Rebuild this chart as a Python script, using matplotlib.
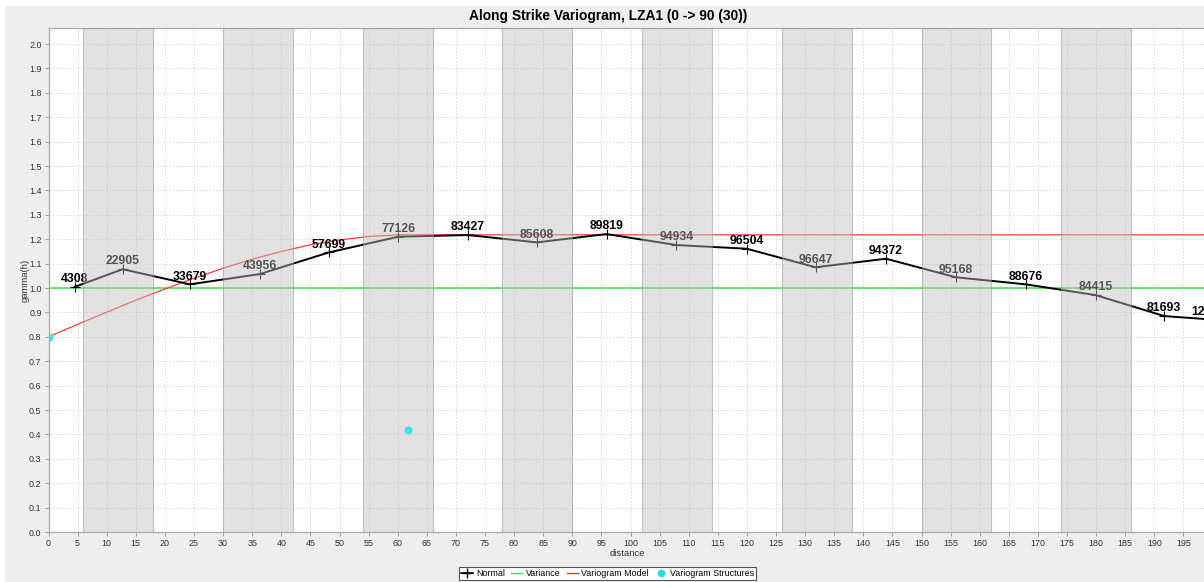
import matplotlib
matplotlib.use("Agg")
import matplotlib.pyplot as plt
from matplotlib.lines import Line2D
from matplotlib.patches import Rectangle
from matplotlib.ticker import MultipleLocator, FormatStrFormatter

plt.rcParams['font.family'] = ['Liberation Sans', 'DejaVu Sans']

# Experimental variogram: lag centres, gamma values and pair counts
lag_distance = [4.55, 12.75, 24.3, 36.3, 48.2, 60.1, 72.1, 83.9, 95.9, 107.9,
                119.95, 131.8, 143.9, 155.9, 167.9, 179.9, 191.7, 199.2]
gamma = [1.005, 1.077, 1.015, 1.057, 1.146, 1.210, 1.217, 1.187, 1.221, 1.176,
         1.161, 1.085, 1.120, 1.044, 1.015, 0.971, 0.885, 0.872]
pair_counts = [4308, 22905, 33679, 43956, 57699, 77126, 83427, 85608, 89819,
               94934, 96504, 96647, 94372, 95168, 88676, 84415, 81693, 12478]

# Sample variance
variance = 1.0

# Fitted variogram model
model_distance = [0, 5, 10, 15, 20, 25, 30, 35, 40, 45, 50, 55, 60, 61.7, 200]
model_gamma = [0.800, 0.851, 0.901, 0.950, 0.996, 1.040, 1.081, 1.118, 1.150,
               1.177, 1.197, 1.211, 1.218, 1.218, 1.218]

# Model structures: nugget and spherical structure (range, contribution)
structure_distance = [0.0, 61.7]
structure_gamma = [0.80, 0.42]

# Shaded lag intervals
band_start = [6, 30, 54, 78, 102, 126, 150, 174]
band_end = [18, 42, 66, 90, 114, 138, 162, 186]

W, H = 1204, 582
fig = plt.figure(figsize=(W / 100, H / 100), dpi=100)
fig.patch.set_facecolor('#eeeeee')
fig.add_artist(Rectangle((0, 1 - 6 / H), 1, 6 / H, transform=fig.transFigure,
                         facecolor='white', edgecolor='none', zorder=0))
fig.add_artist(Rectangle((0, 0), 5 / W, 1, transform=fig.transFigure,
                         facecolor='white', edgecolor='none', zorder=0))

x0_px, y0_px, top_px = 48.5, 532, 28
ax = fig.add_axes([x0_px / W, (H - y0_px) / H, 1 - x0_px / W, (y0_px - top_px) / H])
ax.set_facecolor('white')
ax.set_xlim(0, (W - x0_px) / 5.82)
ax.set_ylim(0, (y0_px - top_px) / 244.0)

ax.xaxis.set_major_locator(MultipleLocator(5))
ax.yaxis.set_major_locator(MultipleLocator(0.1))
ax.yaxis.set_major_formatter(FormatStrFormatter('%.1f'))
ax.grid(True, color='#d6d6d6', linestyle=(0, (2, 2)), linewidth=0.6, zorder=0)
ax.set_axisbelow(True)

for side in ('left', 'bottom', 'top'):
    ax.spines[side].set_color('#a8a8a8')
    ax.spines[side].set_linewidth(0.9)
ax.spines['right'].set_visible(False)
ax.tick_params(axis='both', direction='out', length=3, width=0.6,
               color='#909090', labelsize=6.4, labelcolor='#333333', pad=2)

# Variance and model
ax.axhline(variance, color='#55e055', linewidth=1.2, zorder=2)
ax.plot(model_distance, model_gamma, color='#ff3a3a', linewidth=0.9, zorder=2)

# Experimental points with pair counts
ax.plot(lag_distance, gamma, color='black', linewidth=1.4, marker='+',
        markersize=7, markeredgewidth=0.8, zorder=3)
for d, g, n in zip(lag_distance, gamma, pair_counts):
    ax.annotate(str(n), (d, g), xytext=(0, 3.4), textcoords='offset points',
                ha='center', va='baseline', fontsize=8.8, fontweight='bold',
                color='black', zorder=3, annotation_clip=False)

# Translucent lag bands over the series
for s, e in zip(band_start, band_end):
    ax.axvspan(s, e, facecolor='#bebebe', edgecolor='#8a8a8a', linewidth=0.8,
               alpha=0.45, zorder=4)

# Structures drawn on top
ax.plot(structure_distance, structure_gamma, linestyle='none', marker='o',
        markersize=4.8, color='#3ee4e4', zorder=5)

ax.set_xlabel('distance', fontsize=6.8, color='#333333')
ax.xaxis.set_label_coords((627 - x0_px) / (W - x0_px), -0.034)
ax.set_ylabel('gamma(h)', fontsize=6.8, color='#333333')
ax.yaxis.set_label_coords((29.5 - x0_px) / (W - x0_px), 0.5)

fig.text(608 / W, 1 - 16 / H, 'Along Strike Variogram, LZA1 (0 -> 90 (30))',
         ha='center', va='center', fontsize=9.9, fontweight='bold', color='black')

handles = [
    Line2D([], [], color='black', linewidth=1.2, marker='+', markersize=7,
           markeredgewidth=1.0),
    Line2D([], [], color='#33ee33', linewidth=1.0),
    Line2D([], [], color='#ff3030', linewidth=1.0),
    Line2D([], [], color='#22dddd', linestyle='none', marker='o', markersize=4.5),
]
labels = ['Normal', 'Variance', 'Variogram Model', 'Variogram Structures']
leg = fig.legend(handles, labels, loc='center', bbox_to_anchor=(607.5 / W, 8.5 / H),
                 ncol=4, fontsize=6.4, frameon=True, fancybox=False,
                 edgecolor='#555555', facecolor='white', framealpha=1,
                 handlelength=1.3, handletextpad=0.35, columnspacing=0.7,
                 borderpad=0.25, borderaxespad=0)
leg.get_frame().set_linewidth(0.8)

fig.savefig('out.png', dpi=100, facecolor=fig.get_facecolor())
